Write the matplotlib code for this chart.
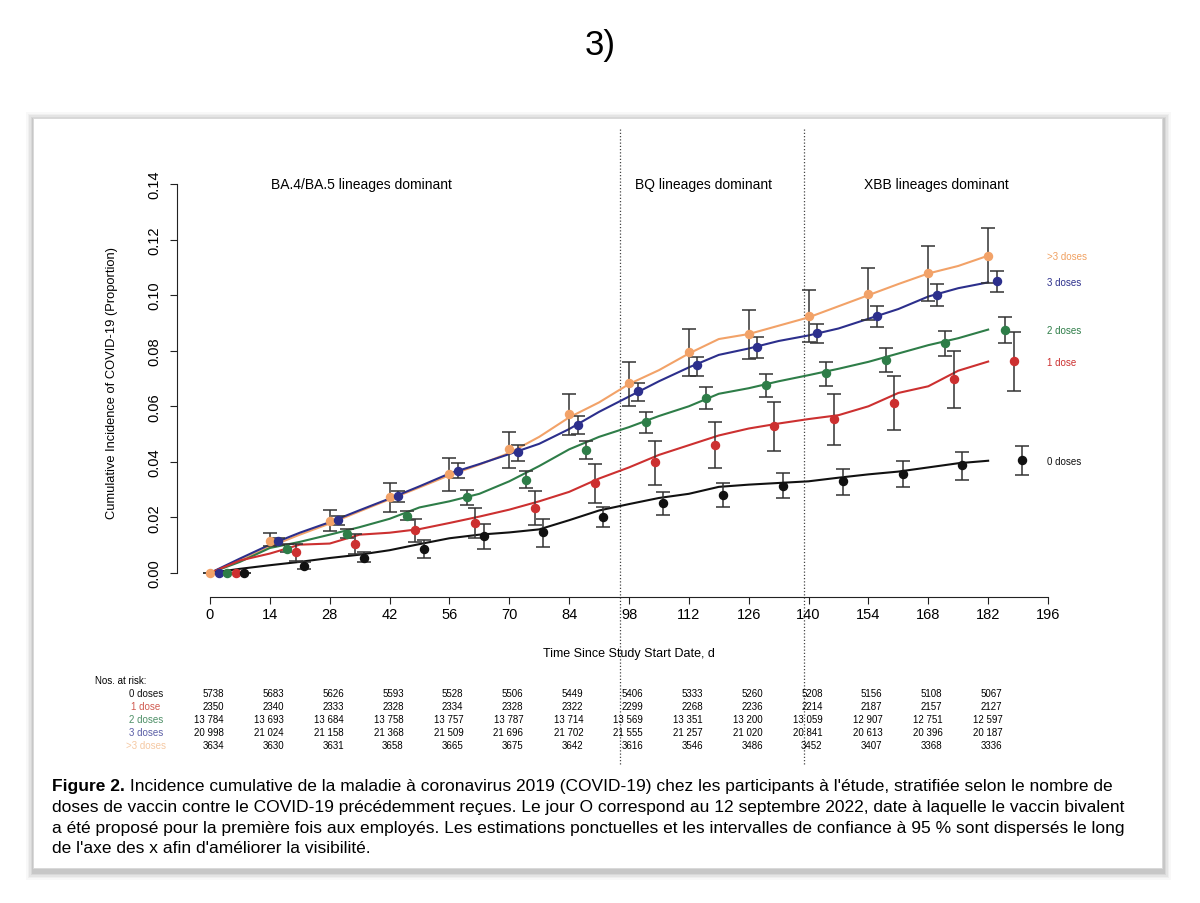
import matplotlib
matplotlib.use("Agg")
import matplotlib.pyplot as plt
import matplotlib.transforms as mtransforms
from matplotlib.patches import Rectangle

plt.rcParams['font.family'] = ['Liberation Sans', 'DejaVu Sans']

# cumulative incidence curves, read every 7 days
days = list(range(0, 183, 7))
curve_0 = [0, 0.0015, 0.0028, 0.0040, 0.0054, 0.0066, 0.0082, 0.0104, 0.0125, 0.0138, 0.0146, 0.0157, 0.0190, 0.0225,
           0.0248, 0.0270, 0.0285, 0.0310, 0.0318, 0.0324, 0.0330, 0.0343, 0.0355, 0.0365, 0.0380, 0.0395, 0.0404]
curve_1 = [0, 0.0045, 0.0070, 0.0102, 0.0106, 0.0138, 0.0145, 0.0158, 0.0180, 0.0203, 0.0228, 0.0258, 0.0292, 0.0340,
           0.0380, 0.0425, 0.0460, 0.0495, 0.0520, 0.0538, 0.0554, 0.0568, 0.0600, 0.0648, 0.0672, 0.0728, 0.0761]
curve_2 = [0, 0.0040, 0.0090, 0.0112, 0.0138, 0.0165, 0.0195, 0.0236, 0.0258, 0.0285, 0.0330, 0.0385, 0.0445, 0.0490,
           0.0525, 0.0565, 0.0600, 0.0645, 0.0665, 0.0690, 0.0712, 0.0735, 0.0760, 0.0790, 0.0820, 0.0845, 0.0876]
curve_3 = [0, 0.0052, 0.0102, 0.0145, 0.0183, 0.0226, 0.0268, 0.0312, 0.0358, 0.0392, 0.0428, 0.0465, 0.0518, 0.0580,
           0.0635, 0.0690, 0.0740, 0.0785, 0.0808, 0.0835, 0.0855, 0.0880, 0.0915, 0.0950, 0.0995, 0.1025, 0.1046]
curve_4 = [0, 0.0045, 0.0095, 0.0138, 0.0178, 0.0222, 0.0265, 0.0308, 0.0352, 0.0390, 0.0432, 0.0490, 0.0560, 0.0614,
           0.0680, 0.0730, 0.0790, 0.0842, 0.0860, 0.0890, 0.0920, 0.0960, 0.1000, 0.1040, 0.1078, 0.1105, 0.1142]

# point estimates and 95% CI, every 14 days, shifted per group
est_days = list(range(0, 183, 14))
offsets = [8, 6, 4, 2, 0]
est_0 = [0, 0.0026, 0.0054, 0.0086, 0.0133, 0.0148, 0.0200, 0.0251, 0.0282, 0.0314, 0.0330, 0.0358, 0.0389, 0.0407]
lo_0 = [0, 0.0014, 0.0038, 0.0054, 0.0086, 0.0094, 0.0164, 0.0209, 0.0237, 0.0269, 0.0282, 0.0308, 0.0336, 0.0354]
hi_0 = [0, 0.0038, 0.0074, 0.0119, 0.0178, 0.0194, 0.0236, 0.0291, 0.0323, 0.0360, 0.0374, 0.0404, 0.0437, 0.0458]
est_1 = [0, 0.0074, 0.0106, 0.0156, 0.0180, 0.0234, 0.0324, 0.0398, 0.0461, 0.0528, 0.0554, 0.0612, 0.0698, 0.0764]
lo_1 = [0, 0.0044, 0.0068, 0.0110, 0.0125, 0.0174, 0.0252, 0.0317, 0.0377, 0.0438, 0.0461, 0.0516, 0.0595, 0.0656]
hi_1 = [0, 0.0104, 0.0140, 0.0196, 0.0233, 0.0295, 0.0392, 0.0475, 0.0542, 0.0616, 0.0644, 0.0708, 0.0798, 0.0869]
est_2 = [0, 0.0086, 0.0140, 0.0206, 0.0272, 0.0336, 0.0444, 0.0545, 0.0630, 0.0677, 0.0719, 0.0767, 0.0828, 0.0876]
lo_2 = [0, 0.0076, 0.0126, 0.0190, 0.0245, 0.0306, 0.0409, 0.0505, 0.0589, 0.0632, 0.0674, 0.0722, 0.0780, 0.0828]
hi_2 = [0, 0.0104, 0.0158, 0.0224, 0.0300, 0.0366, 0.0476, 0.0581, 0.0670, 0.0715, 0.0758, 0.0810, 0.0870, 0.0920]
est_3 = [0, 0.0114, 0.0192, 0.0276, 0.0368, 0.0434, 0.0533, 0.0654, 0.0749, 0.0812, 0.0863, 0.0926, 0.1002, 0.1052]
lo_3 = [0, 0.0102, 0.0174, 0.0254, 0.0342, 0.0404, 0.0500, 0.0620, 0.0709, 0.0774, 0.0828, 0.0887, 0.0961, 0.1010]
hi_3 = [0, 0.0126, 0.0206, 0.0296, 0.0395, 0.0461, 0.0564, 0.0684, 0.0778, 0.0848, 0.0896, 0.0962, 0.1039, 0.1088]
est_4 = [0, 0.0116, 0.0188, 0.0272, 0.0356, 0.0446, 0.0572, 0.0684, 0.0794, 0.0860, 0.0926, 0.1004, 0.1079, 0.1142]
lo_4 = [0, 0.0098, 0.0150, 0.0221, 0.0294, 0.0377, 0.0497, 0.0600, 0.0708, 0.0770, 0.0833, 0.0912, 0.0980, 0.1043]
hi_4 = [0, 0.0144, 0.0227, 0.0324, 0.0414, 0.0506, 0.0644, 0.0761, 0.0878, 0.0948, 0.1019, 0.1098, 0.1178, 0.1242]

groups = ['0 doses', '1 dose', '2 doses', '3 doses', '>3 doses']
colors = ['#111111', '#cc3030', '#2e7d48', '#2c2f8c', '#f2a268']
label_colors = ['#111111', '#d05a50', '#4d8f66', '#5a5ea6', '#f5c8a2']

# numbers at risk
risk_0 = [5738, 5683, 5626, 5593, 5528, 5506, 5449, 5406, 5333, 5260, 5208, 5156, 5108, 5067]
risk_1 = [2350, 2340, 2333, 2328, 2334, 2328, 2322, 2299, 2268, 2236, 2214, 2187, 2157, 2127]
risk_2 = [13784, 13693, 13684, 13758, 13757, 13787, 13714, 13569, 13351, 13200, 13059, 12907, 12751, 12597]
risk_3 = [20998, 21024, 21158, 21368, 21509, 21696, 21702, 21555, 21257, 21020, 20841, 20613, 20396, 20187]
risk_4 = [3634, 3630, 3631, 3658, 3665, 3675, 3642, 3616, 3546, 3486, 3452, 3407, 3368, 3336]

periods = ['BA.4/BA.5 lineages dominant', 'BQ lineages dominant', 'XBB lineages dominant']
period_x = [35.5, 115.5, 170]
period_breaks = [96, 139]

W, H = 1200, 904
fig = plt.figure(figsize=(W / 100, H / 100), dpi=100)

def fx(px):
    return px / W

def fy(py):
    return 1 - py / H

# paper card with soft shadow
for i, a in enumerate([0.04, 0.05, 0.07, 0.09, 0.12]):
    g = 8 - i * 1.6
    fig.patches.append(Rectangle((fx(33 - g + 1), fy(870 + g + 3)), fx(1129 + 2 * g), (752 + 2 * g) / H,
                                 transform=fig.transFigure, facecolor='#555555', alpha=a,
                                 edgecolor='none', zorder=-5))
fig.patches.append(Rectangle((fx(33), fy(869)), fx(1129), 750 / H, transform=fig.transFigure,
                             facecolor='white', edgecolor='#d8d8d8', lw=0.6, zorder=-4))

fig.text(0.5, fy(45), '3)', ha='center', va='center', fontsize=25)

ax = fig.add_axes([fx(210), fy(574), fx(838), 389 / H])
ax.set_facecolor('none')
ax.set_xlim(0, 196)
ax.set_ylim(0, 0.14)

curves = [curve_0, curve_1, curve_2, curve_3, curve_4]
ests = [est_0, est_1, est_2, est_3, est_4]
los = [lo_0, lo_1, lo_2, lo_3, lo_4]
his = [hi_0, hi_1, hi_2, hi_3, hi_4]

for i in [4, 3, 2, 1, 0]:
    ax.plot(days, curves[i], color=colors[i], lw=1.5, zorder=3, clip_on=False)

for i in [4, 3, 2, 1, 0]:
    xs = [d + offsets[i] for d in est_days]
    yerr = [[e - l for e, l in zip(ests[i], los[i])], [h - e for e, h in zip(ests[i], his[i])]]
    ax.errorbar(xs, ests[i], yerr=yerr, fmt='none', ecolor='#333333', elinewidth=1.1,
                capsize=5, capthick=1.1, zorder=4, clip_on=False)
    ax.plot(xs, ests[i], 'o', color=colors[i], ms=5.8, zorder=5, clip_on=False)

# end labels
for i in range(5):
    ax.text(195.7, curves[i][-1], groups[i], color=colors[i] if i != 4 else '#f0a060',
            fontsize=7, ha='left', va='center', clip_on=False)

for b in period_breaks:
    ax.axvline(b, ymin=-0.491, ymax=1.146, color='#444444', ls=(0, (1, 1.6)), lw=0.9, clip_on=False)

for t, x in zip(periods, period_x):
    ax.text(x, 0.14, t, ha='center', va='center', fontsize=10)

for s in ['top', 'right']:
    ax.spines[s].set_visible(False)
ax.spines['left'].set_position(('outward', 24))
ax.spines['bottom'].set_position(('outward', 17))
ax.spines['left'].set_color('#222222')
ax.spines['bottom'].set_color('#222222')
ax.set_xticks(range(0, 197, 14))
ax.set_yticks([0, 0.02, 0.04, 0.06, 0.08, 0.10, 0.12, 0.14])
ax.set_yticklabels(['0.00', '0.02', '0.04', '0.06', '0.08', '0.10', '0.12', '0.14'],
                   rotation=90, va='center')
ax.tick_params(axis='both', length=5, width=0.8, colors='#222222', labelsize=10.5, labelcolor='black')
ax.tick_params(axis='x', pad=2.5)
ax.tick_params(axis='y', pad=6)

fig.text(fx(112), fy(383), 'Cumulative Incidence of COVID-19 (Proportion)', rotation=90,
         ha='center', va='center', fontsize=9.3)
fig.text(fx(629), fy(654), 'Time Since Study Start Date, d', ha='center', va='center', fontsize=9)

# risk table
tr = mtransforms.blended_transform_factory(ax.transData, fig.transFigure)
fig.text(fx(95), fy(681), 'Nos. at risk:', ha='left', va='center', fontsize=7)
risks = [risk_0, risk_1, risk_2, risk_3, risk_4]
row_y = [694, 707, 720, 733, 746]
for i in range(5):
    fig.text(fx(146), fy(row_y[i]), groups[i], ha='center', va='center', fontsize=7,
             color=label_colors[i])
    for d, n in zip(est_days, risks[i]):
        s = f'{n:,}'.replace(',', ' ') if n >= 10000 else str(n)
        ax.text(d + 3.3, fy(row_y[i]), s, transform=tr, ha='right', va='center', fontsize=7,
                clip_on=False)

# caption
cap_lines = [
    " Incidence cumulative de la maladie à coronavirus 2019 (COVID-19) chez les participants à l'étude, stratifiée selon le nombre de",
    "doses de vaccin contre le COVID-19 précédemment reçues. Le jour O correspond au 12 septembre 2022, date à laquelle le vaccin bivalent",
    "a été proposé pour la première fois aux employés. Les estimations ponctuelles et les intervalles de confiance à 95 % sont dispersés le long",
    "de l'axe des x afin d'améliorer la visibilité.",
]
cap_y = [787, 808, 829, 849]
bold = fig.text(fx(52), fy(cap_y[0]), 'Figure 2.', ha='left', va='center', fontsize=12.5,
                fontweight='bold')
fig.canvas.draw()
bb = bold.get_window_extent(renderer=fig.canvas.get_renderer())
fig.text(bb.x1 / W, fy(cap_y[0]), cap_lines[0], ha='left', va='center', fontsize=12.5)
for line, y in zip(cap_lines[1:], cap_y[1:]):
    fig.text(fx(52), fy(y), line, ha='left', va='center', fontsize=12.5)

fig.savefig('out.png', dpi=100)
